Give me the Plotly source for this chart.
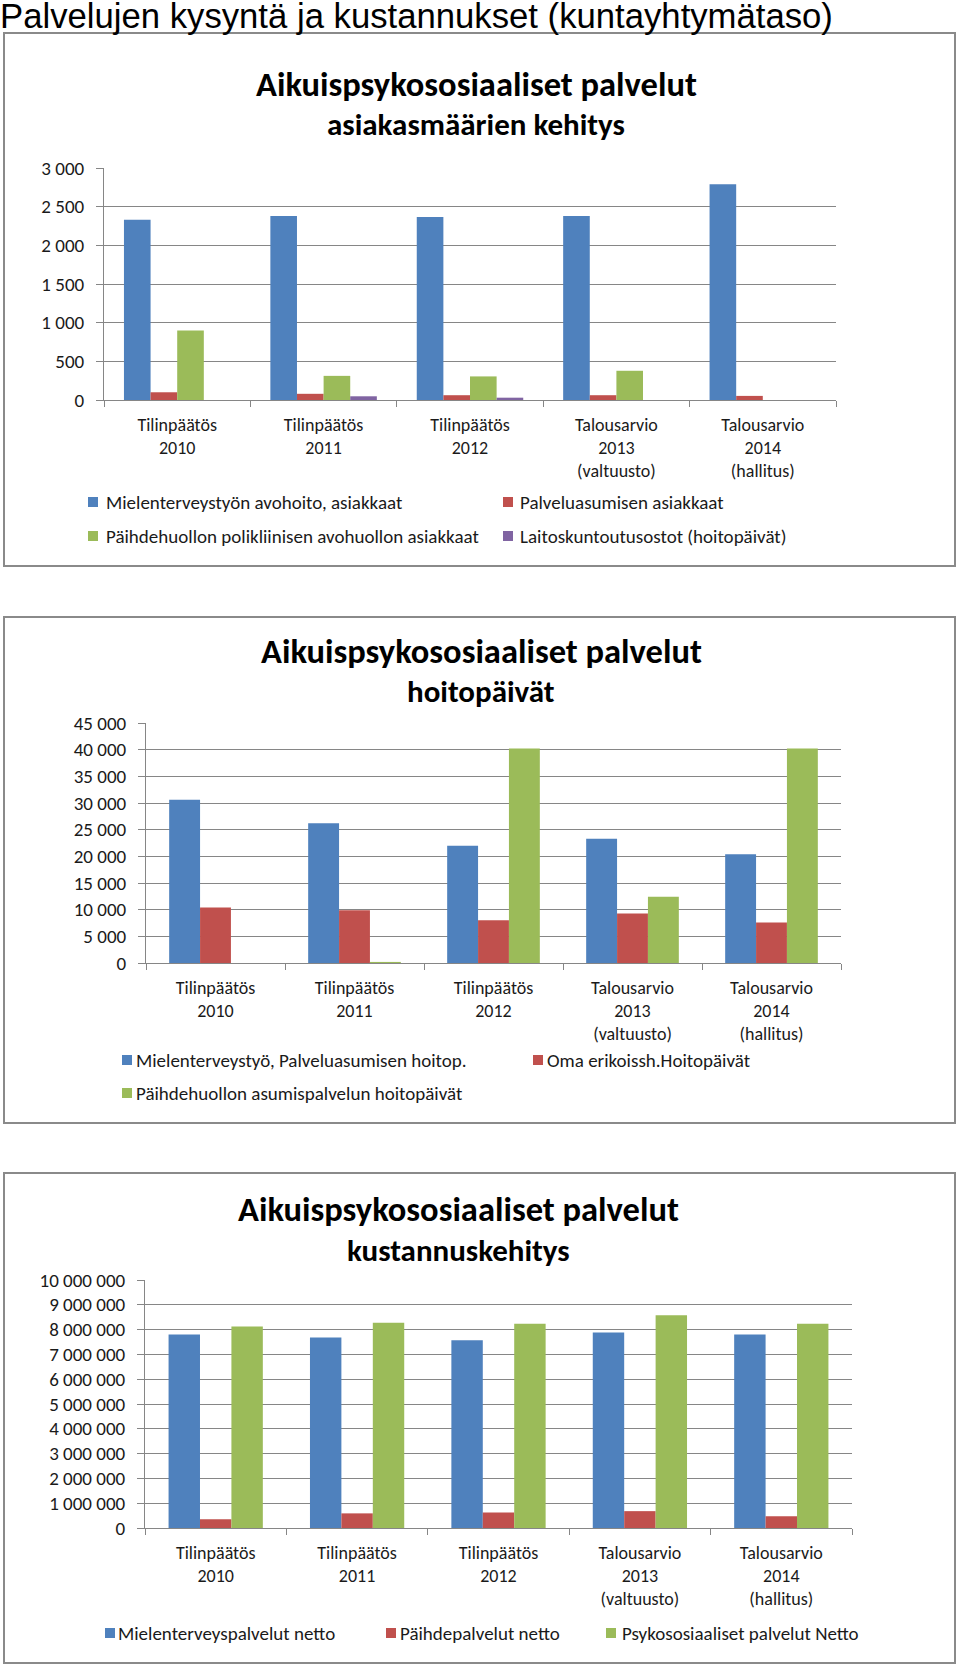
import plotly.graph_objects as go

W, H = 960, 1666

# ---------------- data ----------------
categories = ["Tilinpäätös<br>2010", "Tilinpäätös<br>2011", "Tilinpäätös<br>2012",
              "Talousarvio<br>2013<br>(valtuusto)", "Talousarvio<br>2014<br>(hallitus)"]

# Chart 1: asiakasmäärien kehitys
c1_names = ["Mielenterveystyön avohoito, asiakkaat", "Palveluasumisen asiakkaat",
            "Päihdehuollon polikliinisen avohuollon asiakkaat", "Laitoskuntoutusostot (hoitopäivät)"]
c1_mielenterveys = [2330, 2380, 2365, 2380, 2790]
c1_palveluasuminen = [100, 80, 62, 62, 53]
c1_paihde = [900, 312, 305, 378, 0]
c1_laitos = [0, 48, 30, 0, 0]

# Chart 2: hoitopäivät
c2_names = ["Mielenterveystyö, Palveluasumisen hoitop.", "Oma erikoissh.Hoitopäivät",
            "Päihdehuollon asumispalvelun hoitopäivät"]
c2_mielenterveys = [30600, 26200, 22000, 23300, 20400]
c2_oma = [10400, 9900, 8000, 9300, 7600]
c2_paihde = [0, 200, 40200, 12400, 40200]

# Chart 3: kustannuskehitys
c3_names = ["Mielenterveyspalvelut netto", "Päihdepalvelut netto", "Psykososiaaliset palvelut Netto"]
c3_mielenterveys = [7800000, 7680000, 7570000, 7880000, 7800000]
c3_paihde = [350000, 590000, 630000, 680000, 470000]
c3_psykososiaaliset = [8130000, 8280000, 8240000, 8580000, 8240000]

page_title = "Palvelujen kysyntä ja kustannukset (kuntayhtymätaso)"
chart_title = "Aikuispsykososiaaliset palvelut"
subtitles = ["asiakasmäärien kehitys", "hoitopäivät", "kustannuskehitys"]

# ---------------- style ----------------
BLUE, RED, GREEN, PURPLE = "#4F81BD", "#C0504D", "#9BBB59", "#8064A2"
FONT = "Carlito, Lato, sans-serif"
TXT = "#1a1a1a"
GRID = "#868686"


def px_x(x):
    return x / W


def px_y(y):
    return 1 - y / H


fig = go.Figure()


def add_group(series, colors, axis_suffix, ngroup):
    gap = 1.5 / (ngroup + 1.5)
    w = (1 - gap) / ngroup
    start = -(1 - gap) / 2
    for i, (vals, col) in enumerate(zip(series, colors)):
        fig.add_trace(go.Bar(
            x=categories, y=vals, marker=dict(color=col, line=dict(width=0)),
            width=w, offset=start + i * w, showlegend=False,
            xaxis="x" + axis_suffix, yaxis="y" + axis_suffix, hoverinfo="skip"))


add_group([c1_mielenterveys, c1_palveluasuminen, c1_paihde, c1_laitos],
          [BLUE, RED, GREEN, PURPLE], "", 4)
add_group([c2_mielenterveys, c2_oma, c2_paihde], [BLUE, RED, GREEN], "2", 3)
add_group([c3_mielenterveys, c3_paihde, c3_psykososiaaliset], [BLUE, RED, GREEN], "3", 3)

# plot areas in pixels: (x0, x1, ytop, ybottom)
areas = [(104, 836, 168, 400), (146, 841, 723, 963), (145, 852, 1280, 1528)]
yranges = [(3000, 500), (45000, 5000), (10000000, 1000000)]

layout = dict(
    template="none",
    width=W, height=H, autosize=False,
    margin=dict(l=0, r=0, t=0, b=0, autoexpand=False),
    paper_bgcolor="white", plot_bgcolor="white",
    separators=", ",
    barmode="group",
    showlegend=False,
    font=dict(family=FONT, size=18, color=TXT),
)

for k, ((x0, x1, yt, yb), (ymax, dt)) in enumerate(zip(areas, yranges)):
    sfx = "" if k == 0 else str(k + 1)
    layout["xaxis" + sfx] = dict(
        domain=[px_x(x0), px_x(x1)], anchor="y" + sfx, type="category",
        range=[-0.5, 4.5], tickson="boundaries", ticks="outside", ticklen=6,
        tickcolor=GRID, showline=True, linecolor=GRID, linewidth=1,
        showgrid=False, zeroline=False, fixedrange=True, automargin=False,
        tickfont=dict(family=FONT, size=18, color=TXT), ticklabelstandoff=8)
    layout["yaxis" + sfx] = dict(
        domain=[px_y(yb), px_y(yt)], anchor="x" + sfx,
        range=[0, ymax], dtick=dt, tick0=0, tickformat=",.0f",
        ticks="outside", ticklen=7, tickcolor=GRID,
        showline=True, linecolor=GRID, linewidth=1,
        showgrid=True, gridcolor=GRID, gridwidth=1, zeroline=False,
        tickfont=dict(family=FONT, size=19, color=TXT), ticklabelstandoff=8,
        fixedrange=True, automargin=False)

fig.update_layout(**layout)

shapes = []
annotations = []

# page title
annotations.append(dict(text=page_title, x=px_x(-1), y=px_y(-4), xref="paper", yref="paper",
                        xanchor="left", yanchor="top", showarrow=False, borderpad=0,
                        font=dict(family="Liberation Sans, Arial, sans-serif", size=34.7, color="black")))

# boxes
boxes = [(4, 955, 33, 566), (4, 955, 617, 1123), (4, 955, 1173, 1663)]
for (x0, x1, y0, y1) in boxes:
    shapes.append(dict(type="rect", xref="paper", yref="paper",
                       x0=px_x(x0), x1=px_x(x1), y0=px_y(y0), y1=px_y(y1),
                       line=dict(color="#8a8a8a", width=2), fillcolor="rgba(0,0,0,0)"))

# chart titles (center x, title y, subtitle y)
title_pos = [(476, 84, 124), (481, 651, 691), (458, 1209, 1250)]
for (cx, ty, sy), sub in zip(title_pos, subtitles):
    annotations.append(dict(text="<b>" + chart_title + "</b>", x=px_x(cx), y=px_y(ty),
                            xref="paper", yref="paper", xanchor="center", yanchor="middle",
                            showarrow=False, font=dict(family=FONT, size=34.5, color="black")))
    annotations.append(dict(text="<b>" + sub + "</b>", x=px_x(cx), y=px_y(sy),
                            xref="paper", yref="paper", xanchor="center", yanchor="middle",
                            showarrow=False, font=dict(family=FONT, size=31, color="black")))

# legends (marker left x, text x, y center)
legend_items = [
    (88, 104, 502, BLUE, c1_names[0]), (503, 518, 502, RED, c1_names[1]),
    (88, 104, 536, GREEN, c1_names[2]), (503, 518, 536, PURPLE, c1_names[3]),
    (122, 134, 1060, BLUE, c2_names[0]), (533, 545, 1060, RED, c2_names[1]),
    (122, 134, 1093, GREEN, c2_names[2]),
    (105, 116, 1633, BLUE, c3_names[0]), (386, 398, 1633, RED, c3_names[1]),
    (606, 620, 1633, GREEN, c3_names[2]),
]
for (mx, tx, yc, col, name) in legend_items:
    shapes.append(dict(type="rect", xref="paper", yref="paper",
                       x0=px_x(mx), x1=px_x(mx + 10), y0=px_y(yc + 5), y1=px_y(yc - 5),
                       line=dict(width=0), fillcolor=col))
    annotations.append(dict(text=name, x=px_x(tx), y=px_y(yc), xref="paper", yref="paper",
                            xanchor="left", yanchor="middle", showarrow=False,
                            font=dict(family=FONT, size=19, color=TXT)))

fig.update_layout(shapes=shapes, annotations=annotations)

fig.write_html(
    "out.html",
    config={"displayModeBar": False, "staticPlot": True},
    post_script=("document.documentElement.style.margin='0';"
                 "document.body.style.margin='0';"
                 "document.body.style.overflow='hidden';"
                 "document.documentElement.style.overflow='hidden';"),
)
